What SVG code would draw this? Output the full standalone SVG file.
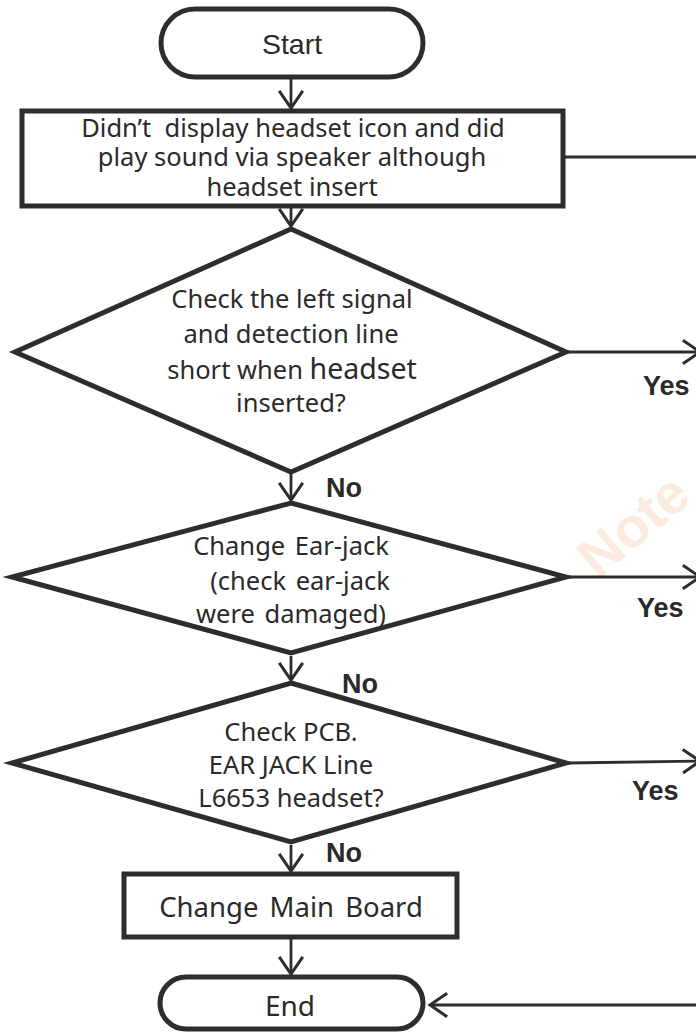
<svg xmlns="http://www.w3.org/2000/svg" width="696" height="1032" viewBox="0 0 696 1032">
<defs>
<style>
.shape{fill:#fff;stroke:#2d2d2d;stroke-width:5;stroke-linejoin:miter}
.conn{stroke:#2d2d2d;stroke-width:2.8;fill:none}
.t{font-family:"Noto Sans","Open Sans",sans-serif;font-size:25.5px;fill:#2a2a2a;text-anchor:middle;white-space:pre}
.lbl{font-family:"Liberation Sans",Arial,sans-serif;font-weight:bold;font-size:27px;fill:#2a2a2a}
</style>
<marker id="arr" markerUnits="userSpaceOnUse" markerWidth="30" markerHeight="30" viewBox="-20 -14 24 28" refX="0" refY="0" orient="auto">
<path d="M-16,-11 L0,0 L-16,11" fill="none" stroke="#2d2d2d" stroke-width="2.8"/>
</marker>
</defs>
<rect width="696" height="1032" fill="#fff"/>
<text x="598" y="580" transform="rotate(-40 598 580)" font-family="Liberation Sans,Arial,sans-serif" font-weight="bold" font-size="56" fill="#fdebe2">Note</text>
<g id="connectors">
<line class="conn" x1="291" y1="79" x2="291" y2="108" marker-end="url(#arr)"/>
<line class="conn" x1="291" y1="207" x2="291" y2="226" marker-end="url(#arr)"/>
<line class="conn" x1="565" y1="157" x2="696" y2="157"/>
<line class="conn" x1="568" y1="352" x2="700" y2="352" marker-end="url(#arr)"/>
<line class="conn" x1="291" y1="474" x2="291" y2="500" marker-end="url(#arr)"/>
<line class="conn" x1="568" y1="577" x2="700" y2="577" marker-end="url(#arr)"/>
<line class="conn" x1="291" y1="656" x2="291" y2="680" marker-end="url(#arr)"/>
<line class="conn" x1="568" y1="763" x2="700" y2="761" marker-end="url(#arr)"/>
<line class="conn" x1="291" y1="845" x2="291" y2="871" marker-end="url(#arr)"/>
<line class="conn" x1="291" y1="939" x2="291" y2="974" marker-end="url(#arr)"/>
<line class="conn" x1="696" y1="1005" x2="430" y2="1005" marker-end="url(#arr)"/>
<text class="lbl" x="643" y="395">Yes</text>
<text class="lbl" x="326" y="497">No</text>
<text class="lbl" x="637" y="617">Yes</text>
<text class="lbl" x="342" y="693">No</text>
<text class="lbl" x="632" y="800">Yes</text>
<text class="lbl" x="326" y="862">No</text>
</g>
<g id="start">
<rect class="shape" x="161" y="9" width="262" height="68" rx="34"/>
<text x="292" y="54" font-family="Liberation Sans,Arial,sans-serif" font-size="28.5" fill="#2a2a2a" text-anchor="middle">Start</text>
</g>
<g id="symptom">
<rect class="shape" x="22" y="111" width="541" height="95"/>
<text class="t" x="293" y="137" xml:space="preserve">Didn’t  display headset icon and did</text>
<text class="t" x="292" y="166">play sound via speaker although</text>
<text class="t" x="292" y="196">headset insert</text>
</g>
<g id="decision1">
<polygon class="shape" points="291,229 566,352 291,472 15,352"/>
<text class="t" x="292" y="308">Check the left signal</text>
<text class="t" x="291" y="343">and detection line</text>
<text class="t" x="292" y="379">short when <tspan style="font-size:28.5px">headset</tspan></text>
<text class="t" x="291" y="412">inserted?</text>
</g>
<g id="decision2">
<polygon class="shape" points="291,503 566,577 291,653 12,577"/>
<text class="t" x="291" y="555" style="word-spacing:3px">Change Ear-jack</text>
<text class="t" x="300" y="590" style="word-spacing:3px">(check ear-jack</text>
<text class="t" x="291" y="623" style="word-spacing:3px">were damaged)</text>
</g>
<g id="decision3">
<polygon class="shape" points="291,683 566,763 291,842 12,763"/>
<text class="t" x="291" y="741">Check PCB.</text>
<text class="t" x="291" y="774">EAR JACK Line</text>
<text class="t" x="291" y="807">L6653 headset?</text>
</g>
<g id="mainboard">
<rect class="shape" x="124" y="874" width="333" height="63"/>
<text class="t" x="291" y="917" style="font-size:27.5px;word-spacing:4px">Change Main Board</text>
</g>
<g id="end">
<rect class="shape" x="160" y="977" width="263" height="52" rx="26"/>
<text class="t" x="290" y="1016" style="font-size:28px">End</text>
</g>
</svg>
